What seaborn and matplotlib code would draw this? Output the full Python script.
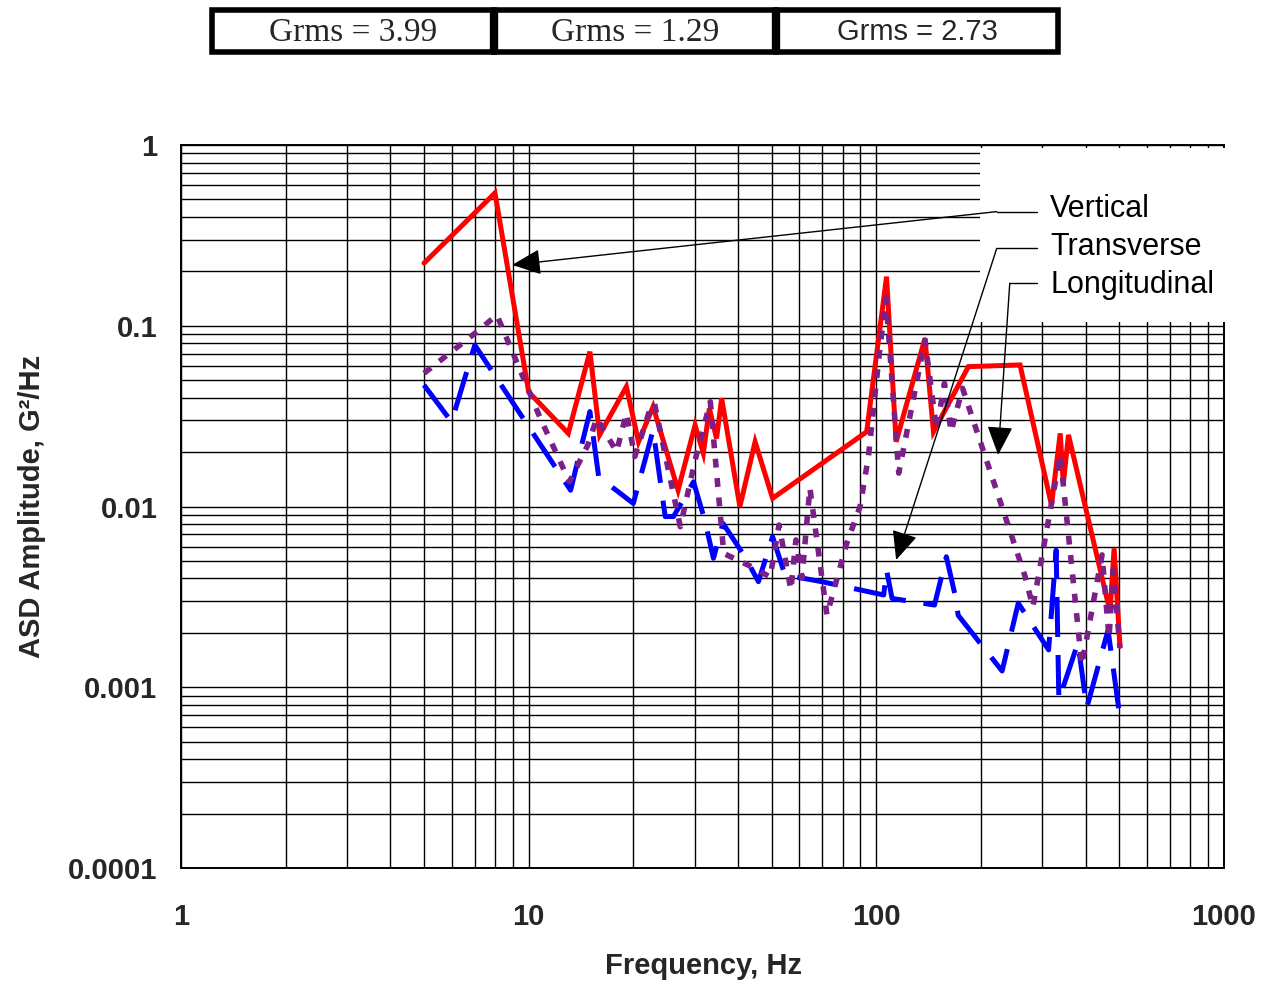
import numpy as np
import pandas as pd
import matplotlib
matplotlib.use("Agg")
import matplotlib.pyplot as plt
import seaborn as sns
from matplotlib.patches import Rectangle
from matplotlib.ticker import NullFormatter, LogLocator
from matplotlib import font_manager

# ---------------- data ----------------
vert_freq = [5, 8, 10, 13, 15, 16, 19.1, 20.7, 22.8, 26.9, 30.1, 31.8, 33.1, 34.7, 35.9,
             40.5, 44.8, 50.3, 93.8, 107, 114, 138, 146, 184, 259, 319, 338, 345, 357,
             470, 483, 502]
vert_asd = [0.222, 0.543, 0.043, 0.0254, 0.0719, 0.0249, 0.046, 0.0228, 0.0357, 0.0123,
            0.0282, 0.0197, 0.0349, 0.0238, 0.0397, 0.00998, 0.0228, 0.0111, 0.0259, 0.187,
            0.0228, 0.0852, 0.0259, 0.0594, 0.0607, 0.0102, 0.0254, 0.0134, 0.0249,
            0.00262, 0.00587, 0.00168]

trans_freq = [5, 6, 7, 13.2, 15, 15.9, 20, 22.8, 24.7, 26.1, 29.8, 32.1, 34, 36.2, 41.9,
              45.8, 50.3, 54.6, 69.6, 105, 107, 111, 147, 159, 168, 172, 230, 256, 313,
              329, 335, 380, 403, 464, 502]
trans_asd = [0.047, 0.0294, 0.0782, 0.0123, 0.0335, 0.0146, 0.0104, 0.0265, 0.0088,
             0.0088, 0.0137, 0.0084, 0.00517, 0.00807, 0.00527, 0.00384, 0.00681, 0.00418,
             0.00384, 0.00324, 0.00445, 0.0031, 0.00285, 0.00527, 0.00331, 0.0025, 0.00123,
             0.00292, 0.00161, 0.00574, 0.00085, 0.00176, 0.00077, 0.00207, 0.00068]

long_freq = [5, 6, 7.2, 8.1, 9.9, 10.8, 13.1, 14.8, 15.7, 17.9, 19.1, 20.2, 22.3, 23.0,
             27.3, 30.1, 33.3, 36.4, 44.2, 49.5, 52.5, 56.8, 58.7, 61.1, 64.4, 72.1, 82.2,
             89.8, 94.9, 102.4, 106.6, 116, 138, 149, 157, 164, 177, 268, 282, 338, 390,
             446, 467, 480, 502]
long_asd = [0.0546, 0.0719, 0.0947, 0.1147, 0.046, 0.0308, 0.0137, 0.0219, 0.0308, 0.0201,
            0.0328, 0.0189, 0.0342, 0.0372, 0.00773, 0.018, 0.038, 0.0055, 0.0046, 0.00407,
            0.0079, 0.00345, 0.00653, 0.00402, 0.01265, 0.00251, 0.00626, 0.01, 0.0189,
            0.0752, 0.142, 0.0153, 0.0834, 0.0265, 0.048, 0.0259, 0.0451, 0.00409, 0.00278,
            0.0193, 0.00133, 0.0054, 0.00187, 0.00445, 0.00165]

series_names = ["Vertical", "Transverse", "Longitudinal"]
grms_labels = ["Grms = 3.99", "Grms = 1.29", "Grms = 2.73"]

x_ticks = [1, 10, 100, 1000]
x_tick_labels = ["1", "10", "100", "1000"]
y_ticks = [0.0001, 0.001, 0.01, 0.1, 1]
y_tick_labels = ["0.0001", "0.001", "0.01", "0.1", "1"]

# annotation anchors (data coords): arrow tip, elbow, end of horizontal leader, label y
ann_tips = [(8.96, 0.217), (114, 0.00506), (224, 0.0193)]
ann_elbows = [(222, 0.428), (222, 0.268), (242, 0.172)]
ann_end_x = 289
ann_text_x = 316
ann_text_y = [0.442, 0.272, 0.168]

# ---------------- style ----------------
sns.set_style("white")
plt.rcParams["font.family"] = ["Liberation Sans", "DejaVu Sans"]

W, H = 1273, 989
fig = plt.figure(figsize=(W / 100, H / 100), dpi=100)
fig.patch.set_facecolor("white")
ax = fig.add_axes([181 / W, 1 - 868 / H, 1043 / W, 723 / H])
ax.set_xscale("log")
ax.set_yscale("log")

df_v = pd.DataFrame({"f": vert_freq, "asd": vert_asd})
df_t = pd.DataFrame({"f": trans_freq, "asd": trans_asd})
df_l = pd.DataFrame({"f": long_freq, "asd": long_asd})

sns.lineplot(data=df_v, x="f", y="asd", ax=ax, color="#FF0000", lw=3.6,
             estimator=None, sort=False, zorder=2.1, solid_joinstyle="miter")
sns.lineplot(data=df_t, x="f", y="asd", ax=ax, color="#0000FF", lw=3.6,
             estimator=None, sort=False, zorder=2.2, linestyle=(0, (8.0, 3.6)))
sns.lineplot(data=df_l, x="f", y="asd", ax=ax, color="#7A2088", lw=4.0,
             estimator=None, sort=False, zorder=2.3, linestyle=(0, (1.6, 1.9)))

ax.set_xlim(1, 1000)
ax.set_ylim(1e-4, 1)

ax.xaxis.set_minor_locator(LogLocator(base=10, subs=np.arange(2, 10), numticks=100))
ax.yaxis.set_minor_locator(LogLocator(base=10, subs=np.arange(2, 10), numticks=100))
ax.set_xticks(x_ticks, x_tick_labels)
ax.set_yticks(y_ticks, y_tick_labels)
ax.xaxis.set_minor_formatter(NullFormatter())
ax.yaxis.set_minor_formatter(NullFormatter())
ax.set_axisbelow(True)
ax.grid(True, which="both", color="black", lw=1.0)
ax.tick_params(which="both", length=0)
ax.tick_params(axis="x", pad=25, labelsize=21)
ax.tick_params(axis="y", pad=17, labelsize=21)
for lab in ax.get_xticklabels() + ax.get_yticklabels():
    lab.set_fontweight("bold")
for sp in ax.spines.values():
    sp.set_visible(True)
    sp.set_color("black")
    sp.set_linewidth(1.4)

ax.set_xlabel("Frequency, Hz", fontsize=21, fontweight="bold")
ax.set_ylabel("ASD Amplitude, G²/Hz", fontsize=21, fontweight="bold")
ax.xaxis.set_label_coords(0.5005, -0.116)
ax.yaxis.set_label_coords(-0.129, 0.5)

# white box behind the legend annotations
ax.add_patch(Rectangle((0.766, 0.755), 0.25, 0.2408, transform=ax.transAxes,
                       facecolor="white", edgecolor="none", zorder=2.6, clip_on=False))

for name, tip, elbow, ty in zip(series_names, ann_tips, ann_elbows, ann_text_y):
    ax.annotate("", xy=tip, xytext=elbow, xycoords="data", textcoords="data",
                arrowprops=dict(arrowstyle="-|>,head_length=0.9,head_width=0.4",
                                color="black", lw=1.0, mutation_scale=20,
                                shrinkA=0, shrinkB=0),
                zorder=5, annotation_clip=False)
    ax.plot([elbow[0], ann_end_x], [elbow[1], elbow[1]], color="black", lw=1.0,
            zorder=5, clip_on=False)
    ax.text(ann_text_x, ty, name, fontsize=22, va="center", ha="left", zorder=6,
            color="black")

# ---------------- Grms table ----------------
names = {f.name for f in font_manager.fontManager.ttflist}
if "Liberation Sans Narrow" in names:
    narrow_font, narrow_size = "Liberation Sans Narrow", 24
else:
    narrow_font, narrow_size = "Liberation Sans", 21
cell_fonts = [("Liberation Serif", 24), ("Liberation Serif", 24), (narrow_font, narrow_size)]

tax = fig.add_axes([212 / W, 1 - 52 / H, 846 / W, 42 / H])
tax.set_xlim(0, 3)
tax.set_ylim(0, 1)
tax.axis("off")
for i, (lab, (fam, fs)) in enumerate(zip(grms_labels, cell_fonts)):
    tax.add_patch(Rectangle((i, 0), 1, 1, facecolor="white", edgecolor="black",
                            lw=4.0, clip_on=False, joinstyle="miter"))
    tax.text(i + 0.5, 0.47, lab, ha="center", va="center", fontsize=fs,
             family=[fam, "DejaVu Sans"])
for i in (1, 2):
    tax.plot([i, i], [0, 1], color="black", lw=6, clip_on=False, solid_capstyle="butt")

fig.savefig("out.png", dpi=100, facecolor="white")
